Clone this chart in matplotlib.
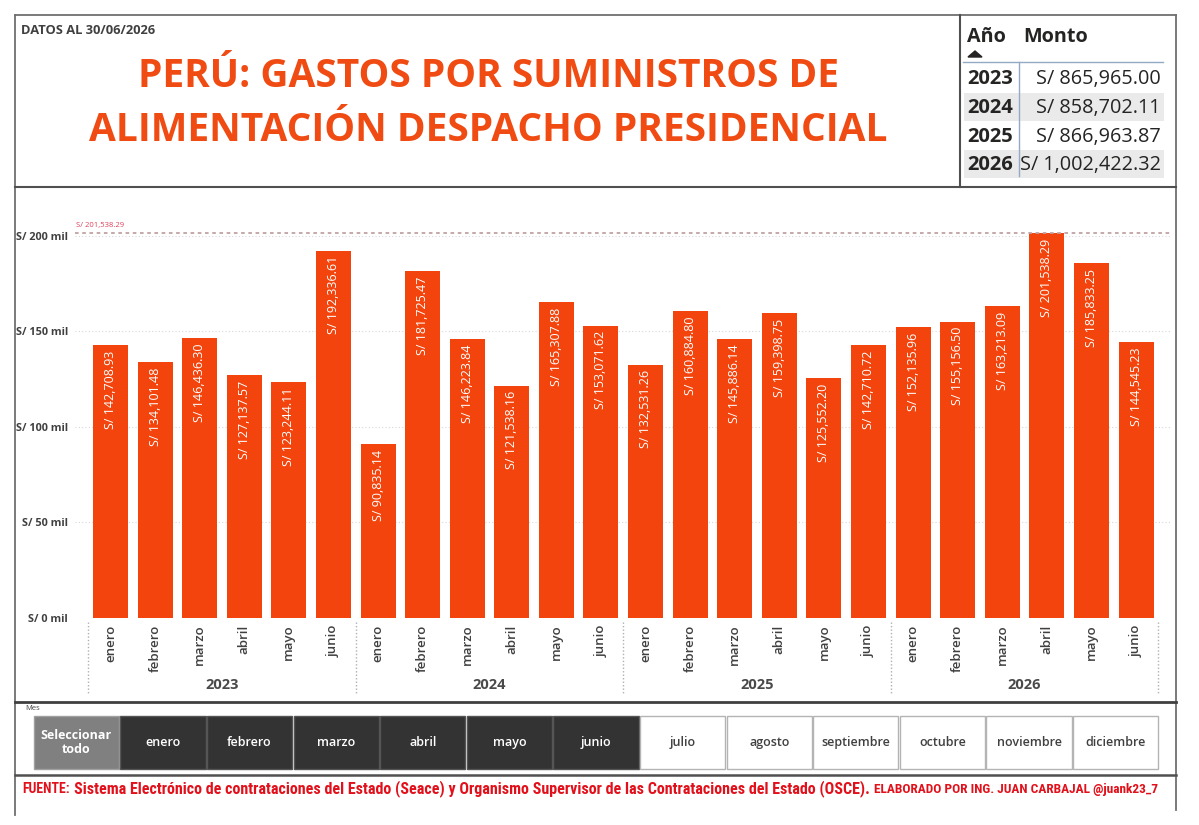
import matplotlib
matplotlib.use('Agg')
import matplotlib.pyplot as plt
from matplotlib.patches import Rectangle, Polygon
from matplotlib import font_manager as fm

# ---------------- data ----------------
years = ['2023', '2024', '2025', '2026']
months = ['enero', 'febrero', 'marzo', 'abril', 'mayo', 'junio']
values_2023 = [142708.93, 134101.48, 146436.30, 127137.57, 123244.11, 192336.61]
values_2024 = [90835.14, 181725.47, 146223.84, 121538.16, 165307.88, 153071.62]
values_2025 = [132531.26, 160884.80, 145886.14, 159398.75, 125552.20, 142710.72]
values_2026 = [152135.96, 155156.50, 163213.09, 201538.29, 185833.25, 144545.23]
year_totals = ['S/ 865,965.00', 'S/ 858,702.11', 'S/ 866,963.87', 'S/ 1,002,422.32']
ref_value = 201538.29
y_ticks = [0, 50000, 100000, 150000, 200000]
y_tick_labels = ['S/ 0 mil', 'S/ 50 mil', 'S/ 100 mil', 'S/ 150 mil', 'S/ 200 mil']
slicer_labels = ['Seleccionar\ntodo', 'enero', 'febrero', 'marzo', 'abril', 'mayo', 'junio',
                 'julio', 'agosto', 'septiembre', 'octubre', 'noviembre', 'diciembre']
slicer_state = ['all'] + ['on'] * 6 + ['off'] * 6

title_lines = ['PERÚ: GASTOS POR SUMINISTROS DE', 'ALIMENTACIÓN DESPACHO PRESIDENCIAL']
date_text = 'DATOS AL 30/06/2026'
footer_parts = ['FUENTE:',
                'Sistema Electrónico de contrataciones del Estado (Seace) y Organismo Supervisor de las Contrataciones del Estado (OSCE).',
                'ELABORADO POR ING. JUAN CARBAJAL @juank23_7']

# ---------------- style ----------------
W, H, DPI = 1199, 825, 100
BAR = '#F2440C'
TITLE_C = '#EF4B13'
DARK = '#404040'
RED = '#E2101A'

available = {f.name for f in fm.fontManager.ttflist}
FONT = 'Open Sans' if 'Open Sans' in available else 'DejaVu Sans'
NARROW = next((f for f in ['Liberation Sans Narrow', 'Roboto Condensed', 'Open Sans'] if f in available), 'DejaVu Sans')
plt.rcParams['font.family'] = [FONT, 'DejaVu Sans']

fig = plt.figure(figsize=(W / DPI, H / DPI), dpi=DPI)
renderer = fig.canvas.get_renderer()

bg = fig.add_axes([0, 0, 1, 1])
bg.set_xlim(0, W)
bg.set_ylim(H, 0)
bg.axis('off')


def width_of(t):
    return t.get_window_extent(renderer).width


def fit_width(t, target):
    t.set_fontsize(t.get_fontsize() * target / width_of(t))


# ---------------- frame lines ----------------
FR = '#707070'
bg.plot([15, 15], [15, 815], color=FR, lw=1.3)
bg.plot([1176, 1176], [15, 810], color=FR, lw=1.3)
bg.plot([15, 1176], [15, 15], color=FR, lw=1.3)
bg.plot([15, 1176], [187, 187], color='#505050', lw=1.5)
bg.plot([960, 960], [15, 187], color='#505050', lw=1.5)
bg.plot([15, 1176], [702, 702], color='#404040', lw=2)
bg.plot([15, 1176], [775, 775], color='#505050', lw=1.8)

# ---------------- header ----------------
t = bg.text(21, 34, date_text, fontsize=8.5, fontweight='bold', color=DARK, va='baseline', ha='left')
fit_width(t, 133)

t1 = bg.text(488, 87, title_lines[0], fontsize=26, fontweight='bold', color=TITLE_C, ha='center', va='baseline')
t2 = bg.text(488, 141, title_lines[1], fontsize=26, fontweight='bold', color=TITLE_C, ha='center', va='baseline')
fit_width(t2, 800)
t1.set_fontsize(t2.get_fontsize())

# ---------------- table ----------------
TBL = '#252423'
h1 = bg.text(967, 42, 'Año', fontsize=13, fontweight='bold', color=TBL, ha='left', va='baseline')
h2 = bg.text(1023, 42, 'Monto', fontsize=13, fontweight='bold', color=TBL, ha='left', va='baseline')
fit_width(h2, 64)
h1.set_fontsize(h2.get_fontsize())
bg.add_patch(Polygon([[968, 57], [982, 57], [975, 51]], closed=True, color='#252423'))
row_y = [78, 107, 136, 164]
year_texts, value_texts = [], []
for i, (yr, tot) in enumerate(zip(years, year_totals)):
    if i % 2 == 1:
        bg.add_patch(Rectangle((964, row_y[i] - 14.5), 200, 28.5, color='#EAEAEA', lw=0, zorder=0))
    year_texts.append(bg.text(967, row_y[i] + 6, yr, fontsize=13.5, fontweight='bold', color=TBL,
                              ha='left', va='baseline'))
    value_texts.append(bg.text(1161, row_y[i] + 6, tot, fontsize=12, color=TBL, ha='right', va='baseline'))
fit_width(year_texts[0], 46)
fit_width(value_texts[3], 141)
for ty in year_texts:
    ty.set_fontsize(year_texts[0].get_fontsize())
for tv in value_texts:
    tv.set_fontsize(value_texts[3].get_fontsize())
bg.plot([963, 1163], [62, 62], color='#93A9C6', lw=1)
bg.plot([1019, 1019], [62, 176], color='#93A9C6', lw=1)

# ---------------- chart ----------------
all_values = values_2023 + values_2024 + values_2025 + values_2026
positions = list(range(len(all_values)))
px0 = 110.5
step = 44.59
x_left = (75 - px0) / step
x_right = (1170 - px0) / step
y0_px, top_px = 617.5, 213.1
px_per_val = (617.5 - 236.0) / 200000
ymax = (y0_px - top_px) / px_per_val

ax = fig.add_axes([75 / W, (H - y0_px) / H, (1170 - 75) / W, (y0_px - top_px) / H])
ax.patch.set_alpha(0)
ax.set_xlim(x_left, x_right)
ax.set_ylim(0, ymax)
for s in ax.spines.values():
    s.set_visible(False)

ax.bar(positions, all_values, width=0.785, color=BAR, zorder=2)
for yv in y_ticks[1:]:
    ax.axhline(yv, color='#D8D8D8', lw=0.8, ls=(0, (1, 2)), zorder=1)
ax.axhline(ref_value, color='#BFA3A3', lw=1.3, ls=(0, (2, 2)), zorder=3)
ax.annotate(f'S/ {ref_value:,.2f}', xy=(x_left, ref_value), xytext=(1, 3), textcoords='offset points',
            fontsize=5.5, color='#E0405A', ha='left', va='bottom')

for p, v in zip(positions, all_values):
    ax.annotate(f'S/ {v:,.2f}', xy=(p, v), xytext=(0, -4), textcoords='offset points',
                rotation=90, ha='center', va='top', color='white', fontsize=9, zorder=4)

ax.set_yticks(y_ticks)
ax.set_yticklabels(y_tick_labels, fontsize=7.8, fontweight='bold', color=DARK)
ax.tick_params(axis='y', length=0, pad=5)
ax.set_xticks(positions)
ax.set_xticklabels(months * len(years), rotation=90, fontsize=9.5, fontweight='semibold', color=DARK)
ax.tick_params(axis='x', length=0, pad=5)
for lbl in ax.get_xticklabels():
    lbl.set_va('top')

# year groups
for yi, yr in enumerate(years):
    xc = yi * 6 + 2.5
    xpx = px0 + xc * step
    bg.text(xpx, 685, yr, fontsize=10.5, fontweight='bold', color='#4A4A4A', ha='center', va='center')
for b in range(len(years) + 1):
    xpx = px0 + (b * 6 - 0.5) * step
    bg.plot([xpx, xpx], [622, 694], color='#B0B0B0', lw=1, ls=(0, (1, 1.5)))

# ---------------- slicer ----------------
bg.text(25, 709, 'Mes', fontsize=5.5, color='#444444', ha='left', va='center')
bx0, bx1 = 33, 1159
bw = (bx1 - bx0) / len(slicer_labels)
for i, (lab, st) in enumerate(zip(slicer_labels, slicer_state)):
    x = bx0 + i * bw
    if st == 'all':
        fc, ec, tc, fw, fs = '#808080', '#A0A0A0', 'white', 'bold', 9
    elif st == 'on':
        fc, ec, tc, fw, fs = '#333333', '#555555', 'white', 'semibold', 9
    else:
        fc, ec, tc, fw, fs = 'white', '#B4B4B4', DARK, 'semibold', 9
    bg.add_patch(Rectangle((x + 0.7, 716), bw - 1.4, 53, facecolor=fc, edgecolor=ec, lw=1))
    bg.text(x + bw / 2, 742.5, lab, fontsize=fs, fontweight=fw, color=tc, ha='center', va='center',
            linespacing=1.1)

# ---------------- footer ----------------
f1 = bg.text(22, 793, footer_parts[0], fontsize=9, fontweight='bold', color=RED, ha='left', va='baseline',
             family=[NARROW, 'DejaVu Sans'])
f2 = bg.text(0, 793, footer_parts[1], fontsize=10.5, fontweight='bold', color=RED, ha='left', va='baseline',
             family=[NARROW, 'DejaVu Sans'])
f3 = bg.text(0, 793, footer_parts[2], fontsize=8.8, fontweight='bold', color=RED, ha='left', va='baseline',
             family=[NARROW, 'DejaVu Sans'])
gap = 4
total = width_of(f1) + width_of(f2) + width_of(f3) + 2 * gap
scale = (1163 - 22 - 2 * gap) / (total - 2 * gap)
for f in (f1, f2, f3):
    f.set_fontsize(f.get_fontsize() * scale)
x = 22
for f in (f1, f2, f3):
    f.set_x(x)
    x += width_of(f) + gap

fig.savefig('out.png', dpi=DPI)
